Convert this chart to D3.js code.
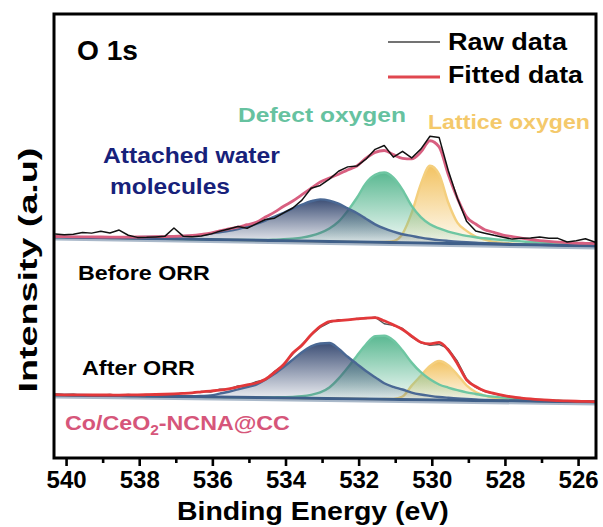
<!DOCTYPE html>
<html><head><meta charset="utf-8">
<script src="https://cdn.jsdelivr.net/npm/d3@7"></script>
<style>
body{margin:0;background:#fff}
svg{display:block}
text{font-family:"Liberation Sans",Arial,Helvetica,sans-serif;font-weight:bold}
</style>
</head><body>
<svg id="chart" width="603" height="527"></svg>
<script>
// ---------------- data ----------------
const energy = [540.30, 540.05,
  539.80, 539.55, 539.30, 539.05,
  538.80, 538.55, 538.30, 538.05,
  537.80, 537.55, 537.30, 537.05,
  536.80, 536.55, 536.30, 536.05,
  535.80, 535.55, 535.30, 535.05,
  534.80, 534.55, 534.30, 534.05,
  533.80, 533.55, 533.30, 533.05,
  532.80, 532.55, 532.30, 532.05,
  531.80, 531.55, 531.30, 531.05,
  530.80, 530.55, 530.30, 530.05,
  529.80, 529.55, 529.30, 529.05,
  528.80, 528.55, 528.30, 528.05,
  527.80, 527.55, 527.30, 527.05,
  526.80, 526.55, 526.30, 526.05,
  525.80, 525.55, 525.30];

// linear background under each spectrum
const baseEnergy = [540.33, 525.51];
const baseBefore = [221, 212];
const baseAfter = [63, 56];

// Before ORR (heights above background)
const waterBefore = [0, 0,
  0, 0.3, 0.4, 0.5,
  0.6, 0.8, 1.0, 1.2,
  1.5, 1.8, 2.1, 2.5,
  3, 3.5, 4.5, 6,
  7.5, 9, 11, 13.5,
  16.5, 20, 24, 28,
  32.5, 36.5, 40, 42,
  41, 38, 33.5, 29,
  23.5, 18, 14, 11,
  8.5, 7, 5.5, 4.3,
  3.3, 2.6, 2, 1.6,
  1.3, 1, 0.8, 0.6,
  0.5, 0.4, 0.3, 0.2,
  0.2, 0.1, 0.1, 0,
  0, 0, 0];
const defectBefore = [0, 0,
  0, 0, 0, 0,
  0, 0, 0, 0,
  0, 0, 0, 0,
  0, 0, 0, 0,
  0, 0, 0, 0.2,
  0.4, 0.6, 1, 1.5,
  2.3, 3.5, 5.5, 8.5,
  13, 20, 31, 44,
  59, 67.5, 70, 65,
  53, 37, 26, 19,
  15, 12, 9.8, 8,
  6.8, 5.9, 5.1, 4.5,
  3.9, 3.4, 2.9, 2.5,
  2.1, 1.8, 1.5, 1.2,
  1, 0.8, 0.7];
const latticeBefore = [0, 0,
  0, 0, 0, 0,
  0, 0, 0, 0,
  0, 0, 0, 0,
  0, 0, 0, 0,
  0, 0, 0, 0,
  0, 0, 0, 0,
  0, 0, 0, 0,
  0, 0, 0, 0,
  0, 0.2, 0.5, 1.5,
  9, 30, 59, 77.5,
  69, 41, 21, 13,
  7.5, 4.5, 2.5, 1.5,
  1, 0.6, 0.4, 0.2,
  0.1, 0, 0, 0,
  0, 0, 0];
const fitBefore = [0.5, 0.5,
  0.5, 0.6, 0.7, 0.8,
  0.9, 1, 1.2, 1.4,
  1.7, 2, 2.3, 2.7,
  3.2, 3.8, 5, 6.5,
  9, 11, 13, 15.5,
  18, 23.5, 28.5, 34.5,
  40, 46.5, 53, 59.5,
  63.5, 67.5, 72, 76,
  84, 90, 92, 88,
  84.5, 84, 91, 102.5,
  96.5, 69, 45.5, 27,
  20, 14.5, 12, 9.4,
  8, 6.6, 5.4, 4.5,
  3.8, 3.2, 2.8, 2.6,
  2.5, 2.5, 2.5];
const rawBefore = [3, 2.5,
  3, 5, 4.5, 6.5,
  5, 8, 3, 1,
  1.2, 1.8, 2.5, 11,
  3, 2.5, 3.5, 5.5,
  8.5, 11, 13.5, 12,
  16.5, 21, 22.5, 28,
  33, 41, 53, 56,
  62.5, 70.5, 75, 76,
  83, 93, 97, 85.5,
  91.5, 85, 94, 107,
  106, 73, 45.5, 22.7,
  13, 11, 9, 7.3,
  5.5, 6.6, 6.8, 8,
  7, 7, 3.5, 5,
  7, 4, 5];

// After ORR (heights above background)
const waterAfter = [0, 0,
  0, 0, 0, 0,
  0, 0, 0, 0,
  0, 0, 0.1, 0.2,
  0.4, 0.6, 1, 1.5,
  3.5, 5.5, 8, 10.5,
  13, 18, 24, 31,
  38.5, 46, 52, 55,
  55.5, 50, 42, 35,
  28, 22, 16, 12.5,
  10, 7, 5.2, 4,
  3, 2.3, 1.7, 1.3,
  1, 0.7, 0.5, 0.3,
  0.2, 0.1, 0, 0,
  0, 0, 0, 0,
  0, 0, 0];
const defectAfter = [0, 0,
  0, 0, 0, 0,
  0, 0, 0, 0,
  0, 0, 0, 0,
  0, 0, 0, 0,
  0, 0, 0, 0.1,
  0.2, 0.3, 0.5, 0.8,
  1.2, 2, 3.5, 6,
  11, 20, 31, 43,
  54.5, 63, 63.5, 59,
  49, 37, 27.5, 20.5,
  15.5, 12.5, 10, 8,
  6.5, 5, 4, 3.2,
  2.5, 2, 1.5, 1.2,
  0.9, 0.7, 0.5, 0.4,
  0.3, 0.2, 0.2];
const latticeAfter = [0, 0,
  0, 0, 0, 0,
  0, 0, 0, 0,
  0, 0, 0, 0,
  0, 0, 0, 0,
  0, 0, 0, 0,
  0, 0, 0, 0,
  0, 0, 0, 0,
  0, 0, 0, 0,
  0, 0, 0.2, 0.5,
  3, 14, 24, 34,
  39, 35, 25.5, 15,
  8.5, 5, 2.8, 1.6,
  0.9, 0.5, 0.3, 0.1,
  0, 0, 0, 0,
  0, 0, 0];
const fitAfter = [0.3, 0.3,
  0.3, 0.4, 0.5, 0.6,
  0.7, 0.8, 1, 1.2,
  1.5, 1.8, 2.2, 2.7,
  3.3, 4, 5, 6,
  7, 8.5, 10.5, 12.5,
  14.6, 18.5, 25.5, 33.5,
  45, 53, 63.5, 72,
  77, 78, 79, 80,
  81, 81.5, 78.5, 74.5,
  70, 63.5, 57.5, 56,
  57.5, 50, 36.5, 20.5,
  14, 9.5, 7.3, 5.5,
  4, 3, 2.2, 1.6,
  1.2, 0.9, 0.7, 0.5,
  0.4, 0.3, 0.3];
const rawAfter = [0.8, 0.5,
  1, 0, 0.8, 0.3,
  1.2, 0.5, 1.5, 0.8,
  1.8, 1.2, 2.5, 2,
  3.8, 3.5, 5.5, 5,
  8, 8, 11.5, 12,
  16, 18, 26.5, 33,
  44, 54, 63, 71,
  76, 79, 78.5, 80.5,
  80.5, 82, 75.5, 74,
  71, 62.5, 57, 54.5,
  55.5, 51.5, 39, 21.5,
  13, 9, 6.8, 5,
  3.7, 2.5, 2.3, 1.4,
  1.5, 0.6, 1, 0.3,
  0.8, 0.2, 0.5];

const xTicks = [540, 538, 536, 534, 532, 530, 528, 526];
const xMinorTicks = [539, 537, 535, 533, 531, 529, 527];

// ---------------- drawing ----------------
const svg = d3.select('#chart');
svg.append('rect').attr('width', 603).attr('height', 527).attr('fill', '#fff');
const P = {l: 54, r: 596, t: 14, b: 458};
const x = d3.scaleLinear().domain([540.33, 525.51]).range([P.l, P.r]);
const y = d3.scaleLinear().domain([0, 444]).range([P.b, P.t]);

const defs = svg.append('defs');
defs.append('clipPath').attr('id', 'clip').append('rect')
  .attr('x', P.l).attr('y', P.t).attr('width', P.r - P.l).attr('height', P.b - P.t);
const plot = svg.append('g').attr('clip-path', 'url(#clip)');

let gid = 0;
function component(vals, base, topColor, strokeColor) {
  const pts = energy.map((e, i) => ({e, v: vals[i], b: base(e)}));
  const top = d3.max(pts, d => d.b + d.v);
  const bot = d3.min(pts, d => d.b);
  const id = 'g' + (gid++);
  const g = defs.append('linearGradient').attr('id', id)
    .attr('gradientUnits', 'userSpaceOnUse')
    .attr('x1', 0).attr('x2', 0).attr('y1', y(top)).attr('y2', y(bot));
  g.append('stop').attr('offset', 0).attr('stop-color', topColor).attr('stop-opacity', 0.95);
  g.append('stop').attr('offset', 0.55).attr('stop-color', topColor).attr('stop-opacity', 0.45);
  g.append('stop').attr('offset', 1).attr('stop-color', topColor).attr('stop-opacity', 0.04);
  const area = d3.area().x(d => x(d.e)).y0(d => y(d.b)).y1(d => y(d.b + d.v)).curve(d3.curveMonotoneX);
  const line = d3.line().x(d => x(d.e)).y(d => y(d.b + d.v)).curve(d3.curveMonotoneX);
  plot.append('path').datum(pts).attr('d', area).attr('fill', 'url(#' + id + ')');
  plot.append('path').datum(pts).attr('d', line).attr('fill', 'none')
    .attr('stroke', strokeColor).attr('stroke-width', 2.4).attr('stroke-linejoin', 'round');
}
function curve(vals, base, color, width, interp) {
  const pts = energy.map((e, i) => ({e, v: vals[i], b: base(e)}));
  const line = d3.line().x(d => x(d.e)).y(d => y(d.b + d.v)).curve(interp);
  plot.append('path').datum(pts).attr('d', line).attr('fill', 'none')
    .attr('stroke', color).attr('stroke-width', width).attr('stroke-linejoin', 'round');
}
function background(base) {
  const pts = baseEnergy.map(e => ({e, b: base(e)}));
  const line = d3.line().x(d => x(d.e)).y(d => y(d.b));
  plot.append('path').datum(pts).attr('d', line).attr('transform', 'translate(0,2.5)')
    .attr('fill', 'none').attr('stroke', '#a9b8c9').attr('stroke-width', 2);
  plot.append('path').datum(pts).attr('d', line)
    .attr('fill', 'none').attr('stroke', '#3f5f89').attr('stroke-width', 3);
}

const bBefore = d3.scaleLinear().domain(baseEnergy).range(baseBefore);
const bAfter = d3.scaleLinear().domain(baseEnergy).range(baseAfter);

// Before ORR
component(latticeBefore, bBefore, '#f2c05a', '#f4cf7e');
component(defectBefore, bBefore, '#52b58c', '#6ec6a2');
component(waterBefore, bBefore, '#33466f', '#4a6894');
background(bBefore);
curve(fitBefore, bBefore, '#d85f80', 2.8, d3.curveMonotoneX);
curve(rawBefore, bBefore, '#111', 1.5, d3.curveLinear);

// After ORR
component(latticeAfter, bAfter, '#f2c05a', '#f4cf7e');
component(defectAfter, bAfter, '#52b58c', '#6ec6a2');
component(waterAfter, bAfter, '#33466f', '#4a6894');
background(bAfter);
curve(rawAfter, bAfter, '#555', 1.4, d3.curveLinear);
curve(fitAfter, bAfter, '#e2383a', 2.8, d3.curveMonotoneX);

// axes
const axMaj = svg.append('g').attr('transform', `translate(0,${P.b})`)
  .call(d3.axisBottom(x).tickValues(xTicks).tickSize(8).tickPadding(5).tickFormat(d3.format('d')));
axMaj.select('.domain').remove();
axMaj.selectAll('line').attr('stroke', '#000').attr('stroke-width', 2.6);
axMaj.selectAll('text').attr('font-size', 24).attr('fill', '#000')
  .style('font-family', '"Liberation Sans",Arial,sans-serif').style('font-weight', 'bold');
const axMin = svg.append('g').attr('transform', `translate(0,${P.b})`)
  .call(d3.axisBottom(x).tickValues(xMinorTicks).tickSize(5).tickFormat(''));
axMin.select('.domain').remove();
axMin.selectAll('line').attr('stroke', '#000').attr('stroke-width', 2.6);

// frame
svg.append('rect').attr('x', P.l).attr('y', P.t).attr('width', P.r - P.l).attr('height', P.b - P.t)
  .attr('fill', 'none').attr('stroke', '#000').attr('stroke-width', 3);

// texts
function label(str, x0, yb, size, color, width, anchor) {
  const g = svg.append('g');
  const t = g.append('text').attr('font-size', size).attr('fill', color).text(str);
  const w = t.node().getComputedTextLength();
  const sx = width ? width / w : 1;
  const off = anchor === 'middle' ? -w / 2 : 0;
  t.attr('x', off);
  g.attr('transform', `translate(${x0},${yb}) scale(${sx},1)`);
  return g;
}
label('O 1s', 77, 60, 27, '#000', 61);
label('Raw data', 448, 50, 23.5, '#000', 119);
label('Fitted data', 448, 83, 23.5, '#000', 135);
svg.append('line').attr('x1', 388).attr('x2', 440).attr('y1', 42).attr('y2', 42)
  .attr('stroke', '#444').attr('stroke-width', 1.6);
svg.append('line').attr('x1', 388).attr('x2', 440).attr('y1', 77).attr('y2', 77)
  .attr('stroke', '#e0474f').attr('stroke-width', 3.2);
label('Defect oxygen', 238, 122, 21, '#66c2a0', 168);
label('Lattice oxygen', 428, 129, 21, '#f4c96b', 162);
label('Attached water', 103, 163, 22, '#17217a', 177);
label('molecules', 110, 194, 22, '#17217a', 120);
label('Before ORR', 78, 280, 21, '#000', 132);
label('After ORR', 82, 375, 21, '#000', 113);

// sample name with subscript
(function () {
  const g = svg.append('g');
  const t = g.append('text').attr('font-size', 21).attr('fill', '#d6567a');
  t.append('tspan').text('Co/CeO');
  t.append('tspan').attr('font-size', 14).attr('dy', 5).text('2');
  t.append('tspan').attr('dy', -5).text('-NCNA@CC');
  const w = t.node().getBBox().width;
  g.attr('transform', `translate(65,430) scale(${225 / w},1)`);
})();

// axis titles
label('Binding Energy (eV)', 313, 520, 25, '#000', 272, 'middle');
(function () {
  const g = svg.append('g');
  const t = g.append('text').attr('font-size', 26).attr('fill', '#000').text('Intensity (a.u)');
  const w = t.node().getComputedTextLength();
  t.attr('x', -w / 2);
  g.attr('transform', `translate(37,270) rotate(-90) scale(${245 / w},1)`);
})();
</script>
</body></html>
